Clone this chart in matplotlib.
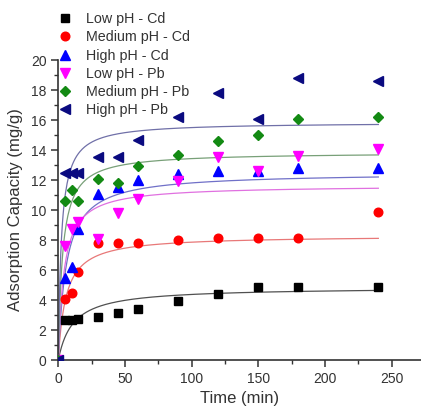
import numpy as np
import matplotlib
matplotlib.use("Agg")
import matplotlib.pyplot as plt
from matplotlib.ticker import MultipleLocator

plt.rcParams['font.family'] = ['Liberation Sans', 'DejaVu Sans']

# ---- data ----
time = [0, 5, 10, 15, 30, 45, 60, 90, 120, 150, 180, 240]
low_cd = [0, 2.70, 2.70, 2.75, 2.90, 3.15, 3.40, 3.93, 4.38, 4.89, 4.89, 4.89]
med_cd = [0, 4.10, 4.50, 5.85, 7.80, 7.78, 7.78, 8.00, 8.15, 8.15, 8.15, 9.84]
high_cd = [0, 5.49, 6.20, 8.73, 11.08, 11.55, 12.02, 12.40, 12.62, 12.60, 12.82, 12.82]
low_pb = [0, 7.58, 8.72, 9.22, 8.08, 9.78, 10.71, 11.95, 13.55, 12.60, 13.60, 14.10]
med_pb = [0, 10.60, 11.31, 10.60, 12.06, 11.77, 12.94, 13.70, 14.60, 15.01, 16.05, 16.20]
high_pb = [0, 12.44, 12.44, 12.44, 13.55, 13.55, 14.67, 16.20, 17.78, 16.07, 18.80, 18.60]

labels = ["Low pH - Cd", "Medium pH - Cd", "High pH - Cd",
          "Low pH - Pb", "Medium pH - Pb", "High pH - Pb"]
# pseudo-second-order fit parameters (qe, k)
fit_qe = [4.85, 8.30, 12.50, 11.65, 13.85, 15.85]
fit_k = [0.0188, 0.0213, 0.0136, 0.0204, 0.0229, 0.0276]

series = [low_cd, med_cd, high_cd, low_pb, med_pb, high_pb]
colors = ["#000000", "#FF0000", "#0000FF", "#FF00FF", "#138A13", "#0A0A80"]
fit_colors = ["#505050", "#E87878", "#7070C8", "#E070E0", "#78A078", "#7070A8"]
markers = ["s", "o", "^", "v", "D", "<"]
msizes = [5.7, 6.2, 6.7, 6.7, 5.3, 6.7]

fig = plt.figure(figsize=(4.21, 4.07), dpi=100)
ax = fig.add_axes([58.3 / 421, 47 / 407, (421 - 58.3) / 421, 300 / 407])

tt = np.linspace(0, 240, 400)
for qe, k, fc in zip(fit_qe, fit_k, fit_colors):
    q = qe * qe * k * tt / (1 + qe * k * tt)
    ax.plot(tt, q, color=fc, lw=0.9, zorder=2)

handles = []
for ys, c, m, ms, lab in zip(series, colors, markers, msizes, labels):
    h, = ax.plot(time, ys, linestyle="none", marker=m, color=c, ms=ms,
                 mec=c, label=lab, zorder=3)
    handles.append(h)

ax.set_xlim(0, 272)
ax.set_ylim(0, 20)
ax.xaxis.set_major_locator(MultipleLocator(50))
ax.xaxis.set_minor_locator(MultipleLocator(25))
ax.yaxis.set_major_locator(MultipleLocator(2))
ax.yaxis.set_minor_locator(MultipleLocator(1))
for s in ["top", "right"]:
    ax.spines[s].set_visible(False)
for s in ["left", "bottom"]:
    ax.spines[s].set_linewidth(1.2)
    ax.spines[s].set_color("#333333")
ax.tick_params(which="major", direction="out", length=5, width=1.1,
               labelsize=10, colors="#333333", labelcolor="#333333")
ax.tick_params(which="minor", direction="out", length=3, width=1.0, colors="#333333")

ax.set_xlabel("Time (min)", fontsize=12, color="#333333", labelpad=4)
ax.set_ylabel("Adsorption Capacity (mg/g)", fontsize=12, color="#333333", labelpad=6)

leg = ax.legend(handles=handles, loc="upper left",
                bbox_to_anchor=(56 / 421, 1 - 12 / 407),
                bbox_transform=fig.transFigure, frameon=False, fontsize=10.3,
                handlelength=1.2, handletextpad=0.9, labelspacing=0.3,
                borderpad=0, borderaxespad=0)
for t in leg.get_texts():
    t.set_color("#333333")

fig.savefig("out.png", dpi=100)
